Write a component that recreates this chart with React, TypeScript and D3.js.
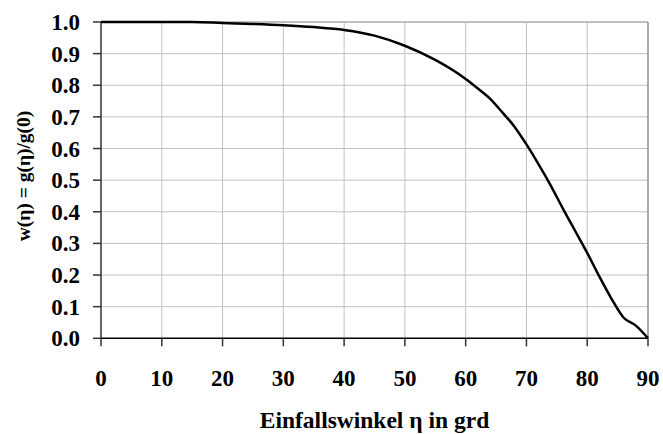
import React from "react";
import * as d3 from "d3";

const angles = [0, 5, 10, 15, 20, 25, 30, 35, 40, 45, 50, 55, 60, 62, 64, 66, 68, 70, 72, 74, 76, 78, 80, 82, 84, 86, 88, 90];
const weights = [1.0, 1.0, 1.0, 1.0, 0.997, 0.994, 0.99, 0.984, 0.975, 0.957, 0.925, 0.88, 0.82, 0.79, 0.758, 0.715, 0.67, 0.613, 0.55, 0.483, 0.41, 0.34, 0.27, 0.195, 0.125, 0.065, 0.04, 0.0];
const xTicks = [0, 10, 20, 30, 40, 50, 60, 70, 80, 90];
const yTicks = [0, 0.1, 0.2, 0.3, 0.4, 0.5, 0.6, 0.7, 0.8, 0.9, 1.0];
const xTitle = "Einfallswinkel η in grd";
const yTitle = "w(η) = g(η)/g(0)";

const W = 663, H = 434;
const L = 101, R = 648, T = 22, B = 338.3;
const font = "Liberation Serif, Times New Roman, Times, serif";

export default function App() {
  const x = d3.scaleLinear().domain([0, 90]).range([L, R]);
  const y = d3.scaleLinear().domain([0, 1]).range([B, T]);
  const pts = angles.map((a, i) => [a, weights[i]] as [number, number]);
  const line = d3.line<[number, number]>().x(d => x(d[0])).y(d => y(d[1])).curve(d3.curveMonotoneX);
  const txt = { fontFamily: font, fontWeight: 700 as const };
  return (
    <svg width={W} height={H} style={{ position: "absolute", left: 0, top: 0, background: "#fff" }}>
      <rect x={0} y={0} width={W} height={H} fill="#fff" />
      {xTicks.slice(1, -1).map(t => (
        <line key={"gx" + t} x1={x(t)} x2={x(t)} y1={T} y2={B} stroke="#c0c0c0" strokeWidth={1} />
      ))}
      {yTicks.slice(1).map(t => (
        <line key={"gy" + t} x1={L} x2={R} y1={y(t)} y2={y(t)} stroke="#c0c0c0" strokeWidth={1} />
      ))}
      <line x1={L} x2={R} y1={T} y2={T} stroke="#a0a0a0" strokeWidth={1} />
      <line x1={R} x2={R} y1={T} y2={B} stroke="#909090" strokeWidth={1.5} />
      <line x1={L} x2={L} y1={T} y2={B} stroke="#333" strokeWidth={1.5} />
      <line x1={L} x2={R} y1={B} y2={B} stroke="#000" strokeWidth={1.5} />
      {yTicks.map(t => (
        <line key={"ty" + t} x1={L - 8} x2={L} y1={y(t)} y2={y(t)} stroke="#333" strokeWidth={1.5} />
      ))}
      {xTicks.map(t => (
        <line key={"tx" + t} x1={x(t)} x2={x(t)} y1={B} y2={B + 8} stroke="#333" strokeWidth={1.5} />
      ))}
      <path d={line(pts) || ""} fill="none" stroke="#000" strokeWidth={2.5} />
      {yTicks.map(t => (
        <text key={"ly" + t} x={80} y={y(t)} dy="0.35em" textAnchor="end" style={txt} fontSize={23} fill="#000">
          {t.toFixed(1)}
        </text>
      ))}
      {xTicks.map(t => (
        <text key={"lx" + t} x={x(t)} y={378} dy="0.35em" textAnchor="middle" style={txt} fontSize={23} fill="#000">
          {t}
        </text>
      ))}
      <text x={(L + R) / 2} y={428} textAnchor="middle" style={txt} fontSize={23.5} fill="#000">
        {xTitle}
      </text>
      <text transform={`translate(30, 176) rotate(-90)`} textAnchor="middle" style={txt} fontSize={19.5} fill="#000">
        {yTitle}
      </text>
    </svg>
  );
}
